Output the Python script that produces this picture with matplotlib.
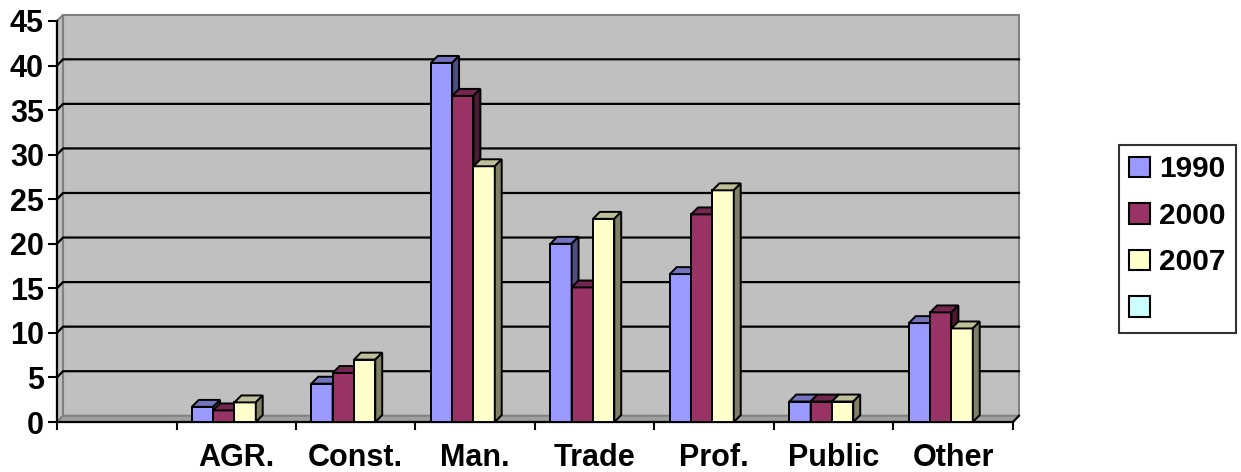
import numpy as np
import matplotlib
matplotlib.use("Agg")
import matplotlib.pyplot as plt
from matplotlib.patches import Polygon, Rectangle, Patch

plt.rcParams['font.family'] = ['Liberation Sans', 'DejaVu Sans']
plt.rcParams['font.weight'] = 'bold'

# sectors (first slot left blank on purpose)
categories = ["", "AGR.", "Const.", "Man.", "Trade", "Prof.", "Public", "Other"]
years = ["1990", "2000", "2007"]
v1990 = [None, 1.7, 4.3, 40.3, 20.0, 16.6, 2.3, 11.1]
v2000 = [None, 1.3, 5.5, 36.6, 15.1, 23.3, 2.3, 12.3]
v2007 = [None, 2.2, 7.0, 28.7, 22.8, 26.0, 2.3, 10.5]
series = [v1990, v2000, v2007]

front_cols = ["#9999ff", "#993366", "#ffffcc"]
top_cols = ["#7373bf", "#732650", "#bfbf99"]
side_cols = ["#4d4d80", "#4d1a33", "#808066"]

fig = plt.figure(figsize=(12.41, 4.72), dpi=100)
ax = fig.add_axes([57/1241, 50/472, 956/1241, 401/472])
ax.set_xlim(-0.5, 7.5)
ax.set_ylim(0, 45)

# depth offsets in data units
wdx, wdy = 0.05, 0.70
bdx, bdy = 0.058, 0.78

# back wall, side wall and floor
ax.add_patch(Rectangle((-0.5 + wdx, wdy), 8, 45, facecolor="#c0c0c0",
                       edgecolor="#808080", lw=1.5, clip_on=False, zorder=0))
ax.add_patch(Polygon([(-0.5, 0), (-0.5 + wdx, wdy), (-0.5 + wdx, 45 + wdy), (-0.5, 45)],
                     facecolor="#c0c0c0", edgecolor="#808080", lw=1.5, clip_on=False, zorder=0))
ax.add_patch(Polygon([(-0.5, 0), (7.5, 0), (7.5 + wdx, wdy), (-0.5 + wdx, wdy)],
                     facecolor="#a0a0a0", edgecolor="#808080", lw=1.5, clip_on=False, zorder=0.5))
for v in range(5, 45, 5):
    ax.plot([-0.5, -0.5 + wdx, 7.5 + wdx], [v, v + wdy, v + wdy], color="black",
            lw=1.6, clip_on=False, zorder=1)
ax.plot([7.5, 7.5 + wdx], [0, wdy], color="black", lw=1.5, clip_on=False, zorder=1)

# 3d-looking bars
bw = 0.1785
for i in range(len(categories)):
    for k, vals in enumerate(series):
        h = vals[i]
        if h is None:
            continue
        x0 = i - 0.372 + k * bw
        x1 = x0 + bw
        ax.add_patch(Rectangle((x0, 0), bw, h, facecolor=front_cols[k],
                               edgecolor="black", lw=1.4, zorder=3, clip_on=False))
        ax.add_patch(Polygon([(x0, h), (x1, h), (x1 + bdx, h + bdy), (x0 + bdx, h + bdy)],
                             facecolor=top_cols[k], edgecolor="black", lw=1.4,
                             zorder=3, clip_on=False))
        ax.add_patch(Polygon([(x1, 0), (x1, h), (x1 + bdx, h + bdy), (x1 + bdx, bdy)],
                             facecolor=side_cols[k], edgecolor="black", lw=1.4,
                             zorder=3, clip_on=False))

for s in ["top", "right"]:
    ax.spines[s].set_visible(False)
for s in ["left", "bottom"]:
    ax.spines[s].set_linewidth(1.6)
    ax.spines[s].set_zorder(2)

ax.set_yticks(range(0, 46, 5))
ax.tick_params(axis='y', length=6.5, width=1.5, labelsize=22, pad=3)
ax.set_xticks(np.arange(-0.5, 8, 1))
ax.set_xticklabels([])
ax.tick_params(axis='x', which='major', length=6, width=1.5)
ax.set_xticks(range(len(categories)), minor=True)
ax.set_xticklabels(categories, minor=True)
ax.tick_params(axis='x', which='minor', length=0, labelsize=22, pad=15)

handles = [Patch(facecolor=c, edgecolor="black", lw=1.5) for c in front_cols + ["#ccffff"]]
leg = ax.legend(handles, years + [""], loc="upper left",
                bbox_to_anchor=(1119/1241, 1 - 145/472), bbox_transform=fig.transFigure,
                fontsize=21.5, frameon=True, fancybox=False, edgecolor="black",
                handlelength=0.68, handleheight=0.68, handletextpad=0.3,
                labelspacing=0.62, borderpad=0.35, borderaxespad=0)
leg.get_frame().set_linewidth(1.5)

fig.savefig("out.png", dpi=100)
